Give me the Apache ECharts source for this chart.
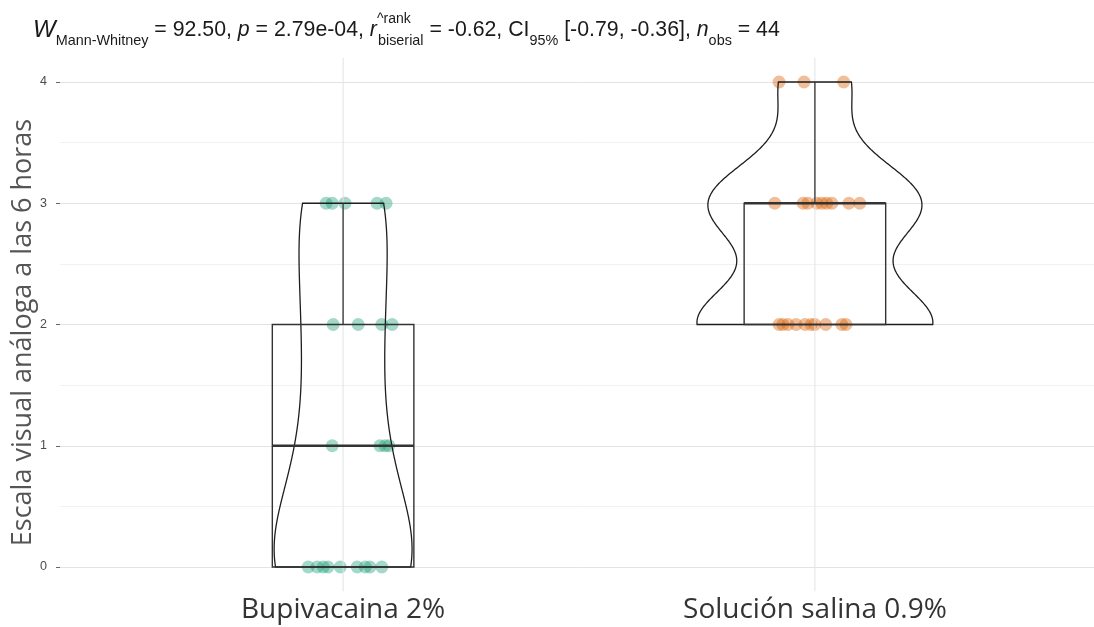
<!DOCTYPE html>
<html>
<head>
<meta charset="utf-8">
<script src="https://cdn.jsdelivr.net/npm/echarts@6/dist/echarts.min.js"></script>
<style>
  html, body { margin: 0; padding: 0; background: #fff; }
  #chart { width: 1094px; height: 627px; }
</style>
</head>
<body>
<div id="chart"></div>
<script>
// Pain score (VAS) six hours after surgery, by treatment group
const categories = ['Bupivacaina 2%', 'Solución salina 0.9%'];

const bupivacainaValues = [0, 0, 0, 0, 0, 0, 0, 0, 0, 1, 1, 1, 1, 2, 2, 2, 2, 3, 3, 3, 3, 3];
const bupivacainaJitter = [-0.074, -0.055, -0.042, -0.032, -0.006, 0.030, 0.047, 0.057, 0.082,
                           -0.023, 0.078, 0.089, 0.097,
                           -0.021, 0.032, 0.082, 0.104,
                           -0.036, -0.023, 0.004, 0.072, 0.091];

const salinaValues = [2, 2, 2, 2, 2, 2, 2, 2, 2, 2, 3, 3, 3, 3, 3, 3, 3, 3, 3, 4, 4, 4];
const salinaJitter = [-0.076, -0.068, -0.057, -0.040, -0.021, -0.008, 0.000, 0.023, 0.057, 0.066,
                      -0.085, -0.025, -0.015, 0.004, 0.015, 0.025, 0.036, 0.072, 0.095,
                      -0.076, -0.023, 0.061];

const yTicks = [0, 1, 2, 3, 4];

const groupColors = ['#1B9E77', '#D95F02'];

// ---- statistics helpers ----
function quantile(sorted, p) {
  const h = (sorted.length - 1) * p;
  const lo = Math.floor(h), hi = Math.ceil(h);
  return sorted[lo] + (h - lo) * (sorted[hi] - sorted[lo]);
}
function boxStats(values) {
  const s = values.slice().sort((a, b) => a - b);
  const q1 = quantile(s, 0.25), med = quantile(s, 0.5), q3 = quantile(s, 0.75);
  const iqr = q3 - q1;
  const lower = s.filter(v => v >= q1 - 1.5 * iqr)[0];
  const upperArr = s.filter(v => v <= q3 + 1.5 * iqr);
  const upper = upperArr[upperArr.length - 1];
  return { q1, med, q3, lower, upper };
}
function bwNrd0(values) {
  const n = values.length;
  const mean = values.reduce((a, b) => a + b, 0) / n;
  const sd = Math.sqrt(values.reduce((a, v) => a + (v - mean) * (v - mean), 0) / (n - 1));
  const s = values.slice().sort((a, b) => a - b);
  const iqr = quantile(s, 0.75) - quantile(s, 0.25);
  const lo = Math.min(sd, iqr / 1.34);
  return 0.9 * lo * Math.pow(n, -0.2);
}
function kde(values, steps) {
  const bw = bwNrd0(values);
  const min = Math.min(...values), max = Math.max(...values);
  const n = values.length;
  const out = [];
  for (let i = 0; i < steps; i++) {
    const y = min + (max - min) * i / (steps - 1);
    let d = 0;
    for (const v of values) {
      const z = (y - v) / bw;
      d += Math.exp(-0.5 * z * z);
    }
    out.push([y, d / (n * bw * Math.sqrt(2 * Math.PI))]);
  }
  return out;
}

const groups = [bupivacainaValues, salinaValues];
const densities = groups.map(g => kde(g, 512));
const densMax = Math.max(...densities.map(d => Math.max(...d.map(p => p[1]))));
const stats = groups.map(boxStats);

const VIOLIN_WIDTH = 0.5;
const BOX_WIDTH = 0.3;

function renderGroup(params, api) {
  const gi = params.dataIndex;
  const cx = gi + 1;
  const children = [];

  // vertical grid line at the category position
  const gTop = api.coord([cx, 4.2]);
  const gBot = api.coord([cx, -0.2]);
  children.push({
    type: 'line', z2: 0,
    shape: { x1: gTop[0], y1: gTop[1], x2: gBot[0], y2: gBot[1] },
    style: { stroke: '#e3e3e3', lineWidth: 1 }
  });

  // violin outline
  const dens = densities[gi];
  const right = dens.map(p => api.coord([cx + p[1] / densMax * VIOLIN_WIDTH / 2, p[0]]));
  const left = dens.slice().reverse().map(p => api.coord([cx - p[1] / densMax * VIOLIN_WIDTH / 2, p[0]]));
  children.push({
    type: 'polygon', z2: 5,
    shape: { points: right.concat(left) },
    style: { fill: 'none', stroke: '#1e1e1e', lineWidth: 1.3 }
  });

  // box plot
  const st = stats[gi];
  const tl = api.coord([cx - BOX_WIDTH / 2, st.q3]);
  const br = api.coord([cx + BOX_WIDTH / 2, st.q1]);
  children.push({
    type: 'rect', z2: 6,
    shape: { x: tl[0], y: tl[1], width: br[0] - tl[0], height: br[1] - tl[1] },
    style: { fill: 'none', stroke: '#333', lineWidth: 1.4 }
  });
  const mL = api.coord([cx - BOX_WIDTH / 2, st.med]);
  const mR = api.coord([cx + BOX_WIDTH / 2, st.med]);
  children.push({
    type: 'line', z2: 7,
    shape: { x1: mL[0], y1: mL[1], x2: mR[0], y2: mR[1] },
    style: { stroke: '#333', lineWidth: 2.6 }
  });
  if (st.upper > st.q3) {
    const a = api.coord([cx, st.q3]), b = api.coord([cx, st.upper]);
    children.push({ type: 'line', z2: 6, shape: { x1: a[0], y1: a[1], x2: b[0], y2: b[1] }, style: { stroke: '#333', lineWidth: 1.3 } });
  }
  if (st.lower < st.q1) {
    const a = api.coord([cx, st.q1]), b = api.coord([cx, st.lower]);
    children.push({ type: 'line', z2: 6, shape: { x1: a[0], y1: a[1], x2: b[0], y2: b[1] }, style: { stroke: '#333', lineWidth: 1.3 } });
  }
  return { type: 'group', children };
}

const pointsBupi = bupivacainaValues.map((v, i) => [1 + bupivacainaJitter[i], v]);
const pointsSal = salinaValues.map((v, i) => [2 + salinaJitter[i], v]);

const chart = echarts.init(document.getElementById('chart'), null, { renderer: 'canvas' });

const F = 'Liberation Sans';
chart.setOption({
  backgroundColor: '#ffffff',
  animation: false,
  grid: { left: 60, right: -4, top: 82, bottom: 60, containLabel: false, outerBoundsMode: 'none' },
  graphic: [{
    type: 'text',
    left: 33, top: 12,
    style: {
      text: '{wi|W}{sub|Mann-Whitney}{m| = 92.50, }{it|p}{m| = 2.79e-04, }{it|r}{sup|^rank}{sub|biserial}{m| = -0.62, CI}{sub|95%}{m| [-0.79, -0.36], }{it|n}{sub|obs}{m| = 44}',
      fontFamily: F,
      fill: '#1a1a1a',
      rich: {
        m: { fontSize: 21.3, lineHeight: 37, fontFamily: F, fill: '#1a1a1a' },
        wi: { fontSize: 24, lineHeight: 37, fontStyle: 'italic', fontFamily: F, fill: '#1a1a1a' },
        it: { fontSize: 21.3, lineHeight: 37, fontStyle: 'italic', fontFamily: F, fill: '#1a1a1a' },
        sub: { fontSize: 14.4, lineHeight: 14, verticalAlign: 'bottom', padding: [0, 0, 1, 0], fontFamily: F, fill: '#1a1a1a' },
        sup: { fontSize: 14, lineHeight: 14, verticalAlign: 'top', width: 1, fontFamily: F, fill: '#1a1a1a' }
      }
    }
  }],
  xAxis: {
    type: 'value',
    min: 0.4, max: 2.6,
    axisLine: { show: false },
    axisTick: { show: false },
    splitLine: { show: false },
    axisLabel: {
      customValues: [1, 2],
      formatter: v => categories[Math.round(v) - 1] || '',
      fontSize: 28,
      color: '#333',
      fontFamily: 'Open Sans',
      margin: 29
    }
  },
  yAxis: {
    type: 'value',
    min: 0, max: 4, interval: 1,
    name: 'Escala visual análoga a las 6 horas',
    nameLocation: 'middle',
    nameGap: 23,
    nameMoveOverlap: false,
    nameTextStyle: { fontSize: 27, color: '#555', fontFamily: 'Open Sans', padding: [0, 16, 0, 0] },
    axisLine: { show: false },
    axisTick: { show: true, length: 4, lineStyle: { color: '#666' } },
    axisLabel: { fontSize: 12.5, color: '#4d4d4d', margin: 13, fontFamily: F },
    splitLine: { show: true, lineStyle: { color: '#e3e3e3', width: 1 } },
    minorTick: { show: false, splitNumber: 2 },
    minorSplitLine: { show: true, lineStyle: { color: '#f1f1f1', width: 1 } }
  },
  series: [
    {
      type: 'custom',
      renderItem: renderGroup,
      data: [[1], [2]],
      clip: false,
      silent: true,
      z: 3
    },
    {
      name: categories[0],
      type: 'scatter',
      data: pointsBupi,
      symbolSize: 13,
      clip: false,
      itemStyle: { color: groupColors[0], opacity: 0.4 },
      z: 2
    },
    {
      name: categories[1],
      type: 'scatter',
      data: pointsSal,
      symbolSize: 13,
      clip: false,
      itemStyle: { color: groupColors[1], opacity: 0.4 },
      z: 2
    }
  ]
});
</script>
</body>
</html>
